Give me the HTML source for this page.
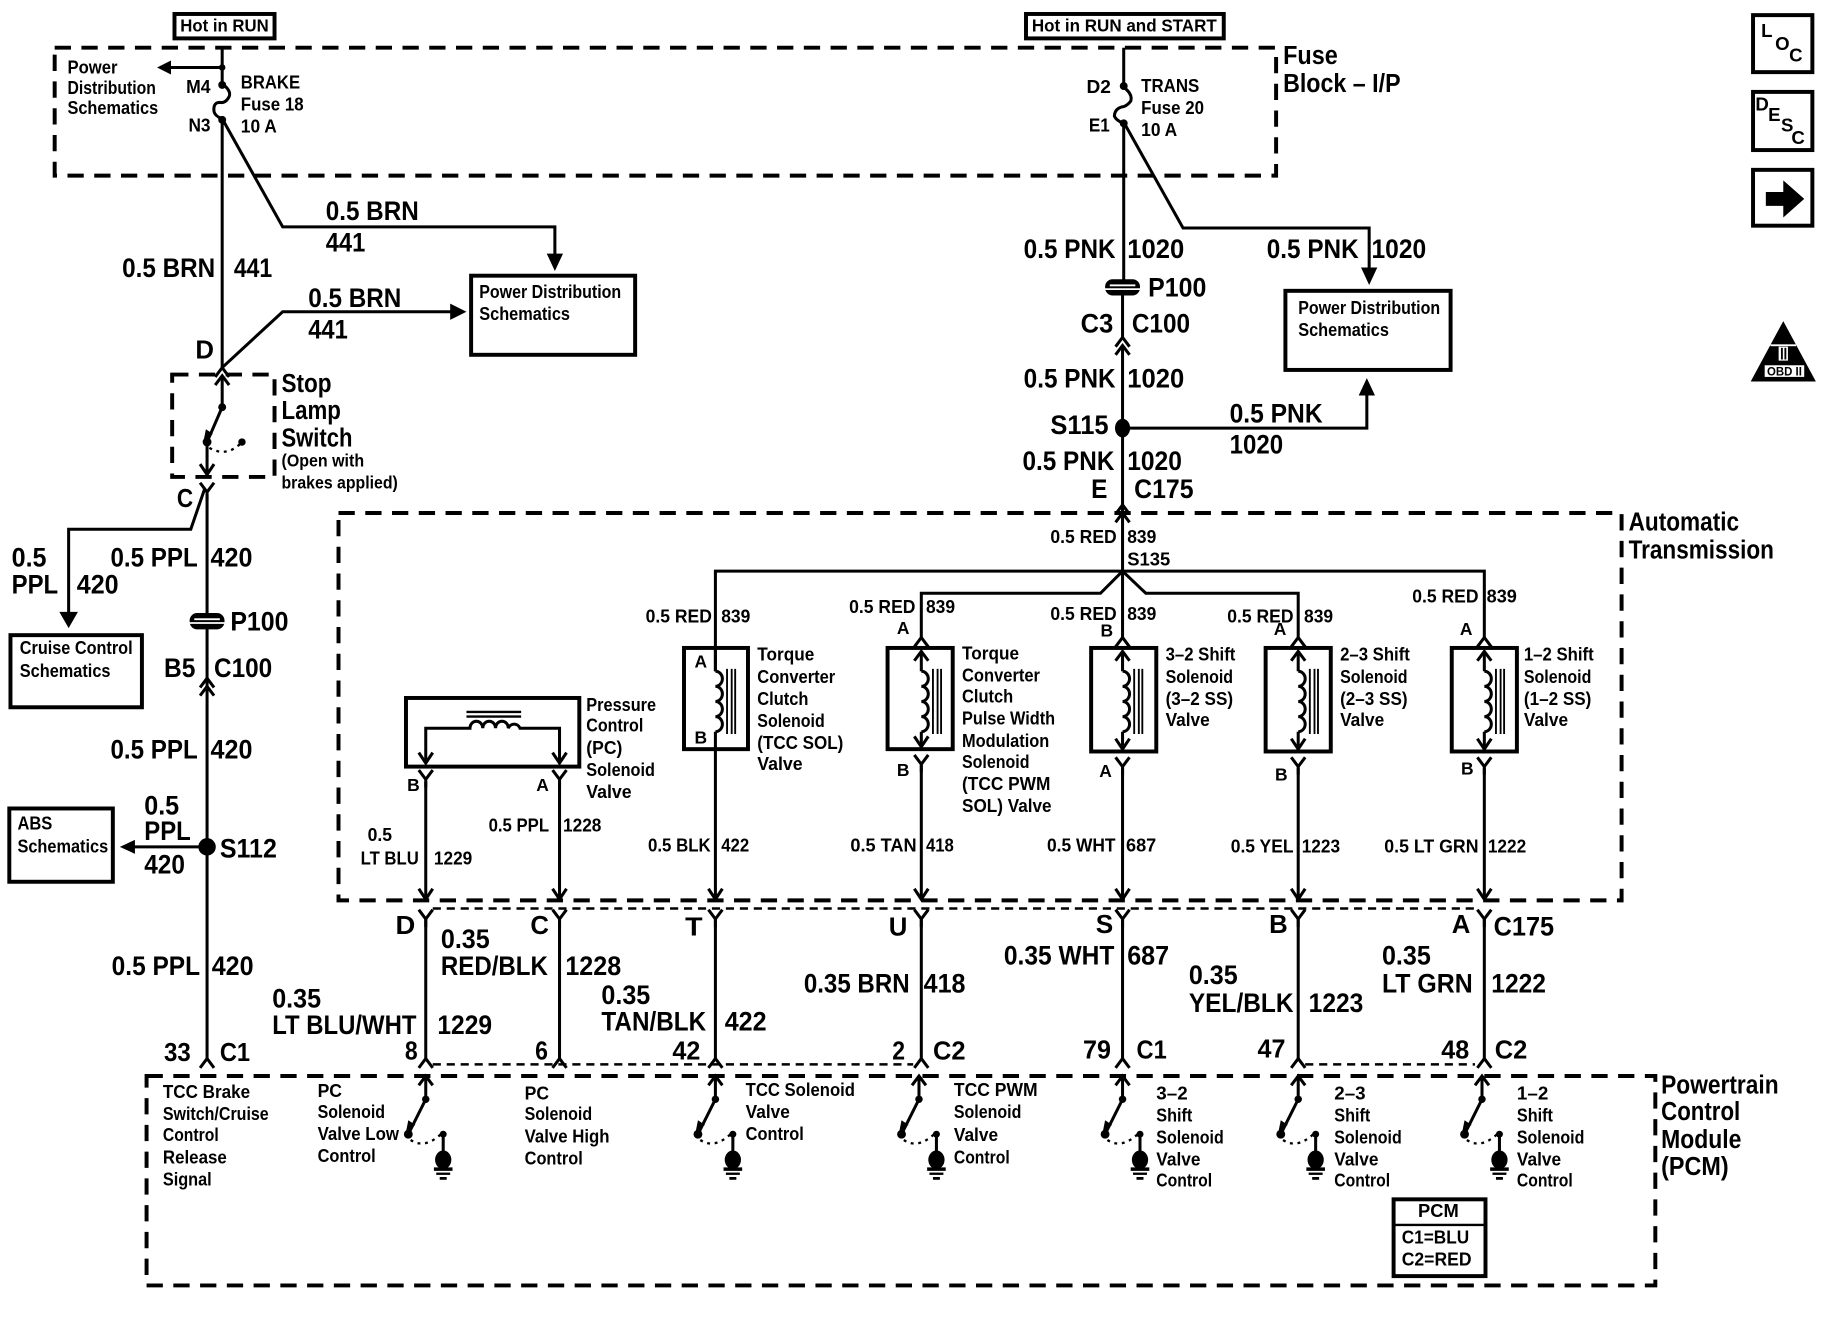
<!DOCTYPE html>
<html><head><meta charset="utf-8"><style>
html,body{margin:0;padding:0;background:#fff}
svg{display:block}
text{font-family:"Liberation Sans",sans-serif;font-weight:700;fill:#000}
.b{font-size:23px}.t{font-size:22px}.m{font-size:16px}.s{font-size:15px}.x{font-size:14px}
.w{fill:none;stroke:#000;stroke-width:2.6}
.d{fill:none;stroke:#000;stroke-width:3.4;stroke-dasharray:14 9}
.k{fill:none;stroke:#000;stroke-width:3.4}
.f{fill:#000}
</style></head><body>
<svg width="1824" height="1328" viewBox="0 0 1568 1141.6" xmlns="http://www.w3.org/2000/svg">
<defs>
<g id="yc"><path d="M-6,-9L0,-1L6,-9M0,-1V6" class="w"/></g>
<g id="uc"><path d="M-6,8L0,0L6,8" class="w"/></g>
<g id="ad"><path d="M-6,-9L0,0L6,-9" class="w"/></g>
<g id="coil"><path d="M0,0a6,6.5 0 0 1 0,13a6,6.5 0 0 1 0,13a6,6.5 0 0 1 0,13a6,6.5 0 0 1 0,13" class="w"/><path d="M10,-2V54M14,-2V54M17,-2V54" fill="none" stroke="#000" stroke-width="1.6"/></g>
<g id="sw0">
<path d="M0,0V20L-15,50" class="w"/><path d="M-6,8L0,0L6,8" class="w"/><circle cx="0" cy="20" r="3.2" class="f"/><circle cx="-15" cy="50" r="3.8" class="f"/>
<path d="M-13,55Q-1,63 13,50" fill="none" stroke="#000" stroke-width="2" stroke-dasharray="2.5 4"/><path d="M-15,38L-17,48L-9,42Z" class="f"/>
<circle cx="15" cy="50" r="3" class="f"/>
</g>
<g id="sw">
<use href="#sw0"/>
<path d="M15,48V76" class="w"/><ellipse cx="15" cy="72" rx="7" ry="8" class="f"/>
<path d="M7,80H23" stroke="#000" stroke-width="3"/><path d="M9,84H21" stroke="#000" stroke-width="2"/><path d="M12,88H18" stroke="#000" stroke-width="2.4"/>
</g>
<g id="sp"><rect x="-15" y="-7" width="30" height="14" rx="6.5" class="f"/><rect x="-11" y="-2.5" width="22" height="1.6" fill="#fff"/><rect x="-16" y="0.8" width="32" height="1.5" fill="#fff"/></g>
</defs>

<!-- dashed enclosures -->
<rect x="47" y="41" width="1050" height="110" class="d"/>
<rect x="148" y="322" width="88" height="88" class="d"/>
<rect x="291" y="441" width="1103" height="333" class="d"/>
<rect x="126" y="925" width="1297" height="180" class="d"/>
<path d="M372,781H1268M372,915H785M1122,915H1268" fill="none" stroke="#000" stroke-width="2.2" stroke-dasharray="7 5"/>

<!-- solid boxes -->
<g class="k">
<rect x="150" y="12" width="86" height="21"/><rect x="882" y="12" width="170" height="21"/>
<rect x="405" y="237" width="141" height="68"/><rect x="1105" y="250" width="142" height="68"/>
<rect x="9" y="546" width="113" height="62"/><rect x="8" y="695" width="89" height="63"/>
<rect x="349" y="600" width="149" height="59"/>
<rect x="588" y="557" width="55" height="87"/><rect x="763" y="557" width="56" height="87"/>
<rect x="938" y="557" width="56" height="89"/><rect x="1088" y="557" width="56" height="89"/><rect x="1248" y="557" width="56" height="89"/>
<rect x="1198" y="1031" width="79" height="66"/><path d="M1198,1053H1277" stroke-width="2"/>
<rect x="1507" y="13" width="51" height="49"/><rect x="1507" y="79" width="51" height="50"/><rect x="1507" y="146" width="51" height="48"/>
</g>

<!-- left wires -->
<path class="w" d="M191,41V72M191,102V316L243,268H392M191,102L243,195H477V224M191,58H144M178,380V408M178,425V910M176,420L164,455H59V530M178,728H112"/>
<path class="w" d="M191,72Q199,78 197,83Q194,89 189,88Q183,88 184,96Q185,100 191,102" stroke-width="2"/>
<circle cx="191" cy="58" r="2.8" class="f"/><circle cx="191" cy="73" r="3.4" class="f"/><circle cx="191" cy="103" r="3.4" class="f"/>
<path class="f" d="M135,58L147,52V64ZM477,233L470,218H484ZM401,268L387,261V275ZM59,540L51,526H67ZM103,728L116,722V734Z"/>
<use href="#uc" x="191" y="316"/>
<!-- stop lamp switch -->
<path class="w" d="M191,323V350L178,380"/><path d="M185,331L191,323L197,331" class="w"/>
<circle cx="191" cy="350" r="3.4" class="f"/><circle cx="178" cy="380" r="3.8" class="f"/><circle cx="208" cy="380" r="3.2" class="f"/>
<path d="M180,385Q194,393 206,382" fill="none" stroke="#000" stroke-width="2" stroke-dasharray="2.5 4"/><path d="M177,369L175,379L183,373Z" class="f"/>
<use href="#ad" x="178" y="408"/><use href="#yc" x="178" y="424"/>
<use href="#sp" x="178" y="534"/><use href="#uc" x="178" y="583"/><use href="#uc" x="178" y="590"/>
<circle cx="178" cy="728" r="7.5" class="f"/>
<use href="#uc" x="178" y="910"/>

<!-- right wires -->
<path class="w" d="M966,41V75M966,105V244M965,254V290M965,297V440M966,105L1017,196H1177V236M965,368H1175V335"/>
<path class="w" d="M966,75Q974,81 972,87Q968,92 964,92Q958,94 958,100Q960,104 966,106" stroke-width="2"/>
<circle cx="966" cy="74" r="3.4" class="f"/><circle cx="966" cy="106" r="3.4" class="f"/>
<path class="f" d="M1177,245L1170,230H1184ZM1175,325L1168,340H1182Z"/>
<use href="#sp" x="965" y="247"/><use href="#uc" x="965" y="290"/><use href="#uc" x="965" y="297"/>
<ellipse cx="965" cy="368" rx="6.5" ry="8" class="f"/>
<use href="#uc" x="965" y="434"/>

<!-- automatic transmission -->
<path class="w" d="M965,441V548M615,577V491H1276V548M792,548V510H946L965,491L985,510H1116V548"/>
<use href="#uc" x="965" y="441"/>
<!-- column 615 -->
<path class="w" d="M615,557V577M615,629V773"/>
<use href="#coil" x="615" y="577"/>
<!-- column 792 / 965 / 1116 / 1276 -->
<use href="#uc" x="792" y="548"/><use href="#uc" x="792" y="560"/><use href="#coil" x="792" y="577"/><path class="w" d="M792,560V577M792,629V642M792,658V773"/><use href="#ad" x="792" y="642"/><use href="#yc" x="792" y="658"/>
<use href="#uc" x="965" y="548"/><use href="#uc" x="965" y="560"/><use href="#coil" x="965" y="577"/><path class="w" d="M965,560V577M965,629V644M965,660V773"/><use href="#ad" x="965" y="644"/><use href="#yc" x="965" y="660"/>
<use href="#uc" x="1116" y="548"/><use href="#uc" x="1116" y="560"/><use href="#coil" x="1116" y="577"/><path class="w" d="M1116,560V577M1116,629V644M1116,660V773"/><use href="#ad" x="1116" y="644"/><use href="#yc" x="1116" y="660"/>
<use href="#uc" x="1276" y="548"/><use href="#uc" x="1276" y="560"/><use href="#coil" x="1276" y="577"/><path class="w" d="M1276,560V577M1276,629V644M1276,660V773"/><use href="#ad" x="1276" y="644"/><use href="#yc" x="1276" y="660"/>
<!-- PC solenoid -->
<path d="M401,612H448M401,616H448" stroke="#000" stroke-width="2"/>
<path class="w" d="M366,655V626H404a5.5,6 0 0 1 11,0a5.5,6 0 0 1 11,0a5.5,6 0 0 1 11,0a5.5,6 0 0 1 10,0H481V655M366,672V773M481,672V773"/>
<use href="#ad" x="366" y="656"/><use href="#ad" x="481" y="656"/><use href="#yc" x="366" y="671"/><use href="#yc" x="481" y="671"/>
<!-- arrows at lower enclosure edge and wires below -->
<use href="#ad" x="366" y="773"/><use href="#ad" x="481" y="773"/><use href="#ad" x="615" y="773"/><use href="#ad" x="792" y="773"/><use href="#ad" x="965" y="773"/><use href="#ad" x="1116" y="773"/><use href="#ad" x="1276" y="773"/>
<use href="#yc" x="366" y="791"/><use href="#yc" x="481" y="791"/><use href="#yc" x="615" y="791"/><use href="#yc" x="792" y="791"/><use href="#yc" x="965" y="791"/><use href="#yc" x="1116" y="791"/><use href="#yc" x="1276" y="791"/>
<path class="w" d="M366,790V910M481,790V910M615,790V910M792,790V910M965,790V910M1116,790V910M1276,790V910"/>
<use href="#uc" x="366" y="910"/><use href="#uc" x="481" y="910"/><use href="#uc" x="615" y="910"/><use href="#uc" x="792" y="910"/><use href="#uc" x="965" y="910"/><use href="#uc" x="1116" y="910"/><use href="#uc" x="1276" y="910"/>

<!-- PCM switches -->
<use href="#sw" x="366" y="925"/><use href="#sw" x="615" y="925"/><use href="#sw" x="790" y="925"/><use href="#sw" x="965" y="925"/><use href="#sw" x="1116" y="925"/><use href="#sw" x="1274" y="925"/>

<!-- icons -->
<path class="f" d="M1518,165H1533V155L1551,171L1533,187V177H1518Z"/>
<path class="f" d="M1533,276L1561,328H1505Z"/>
<rect x="1522" y="296" width="22" height="1.6" fill="#fff"/><rect x="1529" y="298" width="8" height="12" fill="#fff"/><rect x="1531" y="299" width="1.6" height="10"/><rect x="1534" y="299" width="1.6" height="10"/>
<rect x="1517" y="314" width="34" height="10" fill="#fff"/>
<text x="1519" y="323" style="font-size:10px" textLength="30" lengthAdjust="spacingAndGlyphs">OBD II</text>
<text class="m" x="1514" y="32">L</text><text class="m" x="1526" y="43">O</text><text class="m" x="1538" y="53">C</text>
<text class="m" x="1509" y="95">D</text><text class="m" x="1520" y="104">E</text><text class="m" x="1531" y="113">S</text><text class="m" x="1540" y="124">C</text>

<!-- top labels -->
<text class="s" x="155" y="27" textLength="76" lengthAdjust="spacingAndGlyphs">Hot in RUN</text>
<text class="s" x="887" y="27" textLength="159" lengthAdjust="spacingAndGlyphs">Hot in RUN and START</text>
<text class="t" x="1103" y="55" textLength="47" lengthAdjust="spacingAndGlyphs">Fuse</text>
<text class="t" x="1103" y="79" textLength="101" lengthAdjust="spacingAndGlyphs">Block – I/P</text>
<text class="m" x="58" y="63" textLength="43" lengthAdjust="spacingAndGlyphs">Power</text>
<text class="m" x="58" y="81" textLength="76" lengthAdjust="spacingAndGlyphs">Distribution</text>
<text class="m" x="58" y="98" textLength="78" lengthAdjust="spacingAndGlyphs">Schematics</text>
<text class="m" x="160" y="80" textLength="21" lengthAdjust="spacingAndGlyphs">M4</text>
<text class="m" x="162" y="113" textLength="19" lengthAdjust="spacingAndGlyphs">N3</text>
<text class="m" x="207" y="76" textLength="51" lengthAdjust="spacingAndGlyphs">BRAKE</text>
<text class="m" x="207" y="95" textLength="54" lengthAdjust="spacingAndGlyphs">Fuse 18</text>
<text class="m" x="207" y="114" textLength="31" lengthAdjust="spacingAndGlyphs">10 A</text>
<text class="m" x="934" y="80" textLength="21" lengthAdjust="spacingAndGlyphs">D2</text>
<text class="m" x="936" y="113" textLength="18" lengthAdjust="spacingAndGlyphs">E1</text>
<text class="m" x="981" y="79" textLength="50" lengthAdjust="spacingAndGlyphs">TRANS</text>
<text class="m" x="981" y="98" textLength="54" lengthAdjust="spacingAndGlyphs">Fuse 20</text>
<text class="m" x="981" y="117" textLength="31" lengthAdjust="spacingAndGlyphs">10 A</text>
<text class="b" x="280" y="189" textLength="80" lengthAdjust="spacingAndGlyphs">0.5 BRN</text>
<text class="b" x="280" y="216" textLength="34" lengthAdjust="spacingAndGlyphs">441</text>
<text class="b" x="105" y="238" textLength="80" lengthAdjust="spacingAndGlyphs">0.5 BRN</text>
<text class="b" x="201" y="238" textLength="33" lengthAdjust="spacingAndGlyphs">441</text>
<text class="b" x="265" y="264" textLength="80" lengthAdjust="spacingAndGlyphs">0.5 BRN</text>
<text class="b" x="265" y="291" textLength="34" lengthAdjust="spacingAndGlyphs">441</text>
<text class="m" x="412" y="256" textLength="122" lengthAdjust="spacingAndGlyphs">Power Distribution</text>
<text class="m" x="412" y="275" textLength="78" lengthAdjust="spacingAndGlyphs">Schematics</text>
<text class="t" x="168" y="308" textLength="16" lengthAdjust="spacingAndGlyphs">D</text>
<text class="t" x="242" y="337" textLength="43" lengthAdjust="spacingAndGlyphs">Stop</text>
<text class="t" x="242" y="360" textLength="51" lengthAdjust="spacingAndGlyphs">Lamp</text>
<text class="t" x="242" y="384" textLength="61" lengthAdjust="spacingAndGlyphs">Switch</text>
<text class="s" x="242" y="401" textLength="71" lengthAdjust="spacingAndGlyphs">(Open with</text>
<text class="s" x="242" y="420" textLength="100" lengthAdjust="spacingAndGlyphs">brakes applied)</text>

<!-- left column labels -->
<text class="t" x="152" y="436" textLength="14" lengthAdjust="spacingAndGlyphs">C</text>
<text class="b" x="10" y="487" textLength="30" lengthAdjust="spacingAndGlyphs">0.5</text>
<text class="b" x="10" y="510" textLength="40" lengthAdjust="spacingAndGlyphs">PPL</text>
<text class="b" x="66" y="510" textLength="36" lengthAdjust="spacingAndGlyphs">420</text>
<text class="b" x="95" y="487" textLength="75" lengthAdjust="spacingAndGlyphs">0.5 PPL</text>
<text class="b" x="181" y="487" textLength="36" lengthAdjust="spacingAndGlyphs">420</text>
<text class="m" x="17" y="562" textLength="97" lengthAdjust="spacingAndGlyphs">Cruise Control</text>
<text class="m" x="17" y="582" textLength="78" lengthAdjust="spacingAndGlyphs">Schematics</text>
<text class="b" x="198" y="542" textLength="50" lengthAdjust="spacingAndGlyphs">P100</text>
<text class="b" x="141" y="582" textLength="27" lengthAdjust="spacingAndGlyphs">B5</text>
<text class="b" x="184" y="582" textLength="50" lengthAdjust="spacingAndGlyphs">C100</text>
<text class="b" x="95" y="652" textLength="75" lengthAdjust="spacingAndGlyphs">0.5 PPL</text>
<text class="b" x="181" y="652" textLength="36" lengthAdjust="spacingAndGlyphs">420</text>
<text class="m" x="15" y="713" textLength="30" lengthAdjust="spacingAndGlyphs">ABS</text>
<text class="m" x="15" y="733" textLength="78" lengthAdjust="spacingAndGlyphs">Schematics</text>
<text class="b" x="124" y="700" textLength="30" lengthAdjust="spacingAndGlyphs">0.5</text>
<text class="b" x="124" y="722" textLength="40" lengthAdjust="spacingAndGlyphs">PPL</text>
<text class="b" x="124" y="751" textLength="35" lengthAdjust="spacingAndGlyphs">420</text>
<text class="b" x="189" y="737" textLength="49" lengthAdjust="spacingAndGlyphs">S112</text>
<text class="b" x="96" y="838" textLength="76" lengthAdjust="spacingAndGlyphs">0.5 PPL</text>
<text class="b" x="182" y="838" textLength="36" lengthAdjust="spacingAndGlyphs">420</text>

<!-- right column labels -->
<text class="b" x="880" y="222" textLength="79" lengthAdjust="spacingAndGlyphs">0.5 PNK</text>
<text class="b" x="969" y="222" textLength="49" lengthAdjust="spacingAndGlyphs">1020</text>
<text class="b" x="1089" y="222" textLength="79" lengthAdjust="spacingAndGlyphs">0.5 PNK</text>
<text class="b" x="1179" y="222" textLength="47" lengthAdjust="spacingAndGlyphs">1020</text>
<text class="m" x="1116" y="270" textLength="122" lengthAdjust="spacingAndGlyphs">Power Distribution</text>
<text class="m" x="1116" y="289" textLength="78" lengthAdjust="spacingAndGlyphs">Schematics</text>
<text class="b" x="987" y="255" textLength="50" lengthAdjust="spacingAndGlyphs">P100</text>
<text class="b" x="929" y="286" textLength="28" lengthAdjust="spacingAndGlyphs">C3</text>
<text class="b" x="973" y="286" textLength="50" lengthAdjust="spacingAndGlyphs">C100</text>
<text class="b" x="880" y="333" textLength="79" lengthAdjust="spacingAndGlyphs">0.5 PNK</text>
<text class="b" x="969" y="333" textLength="49" lengthAdjust="spacingAndGlyphs">1020</text>
<text class="b" x="903" y="373" textLength="50" lengthAdjust="spacingAndGlyphs">S115</text>
<text class="b" x="1057" y="363" textLength="80" lengthAdjust="spacingAndGlyphs">0.5 PNK</text>
<text class="b" x="1057" y="390" textLength="46" lengthAdjust="spacingAndGlyphs">1020</text>
<text class="b" x="879" y="404" textLength="79" lengthAdjust="spacingAndGlyphs">0.5 PNK</text>
<text class="b" x="969" y="404" textLength="47" lengthAdjust="spacingAndGlyphs">1020</text>
<text class="b" x="938" y="428" textLength="14" lengthAdjust="spacingAndGlyphs">E</text>
<text class="b" x="975" y="428" textLength="51" lengthAdjust="spacingAndGlyphs">C175</text>

<!-- transmission labels -->
<text class="t" x="1400" y="456" textLength="95" lengthAdjust="spacingAndGlyphs">Automatic</text>
<text class="t" x="1400" y="480" textLength="125" lengthAdjust="spacingAndGlyphs">Transmission</text>
<text class="m" x="903" y="467" textLength="57" lengthAdjust="spacingAndGlyphs">0.5 RED</text>
<text class="m" x="969" y="467" textLength="25" lengthAdjust="spacingAndGlyphs">839</text>
<text class="m" x="969" y="486" textLength="37" lengthAdjust="spacingAndGlyphs">S135</text>
<text class="m" x="555" y="535" textLength="57" lengthAdjust="spacingAndGlyphs">0.5 RED</text>
<text class="m" x="620" y="535" textLength="25" lengthAdjust="spacingAndGlyphs">839</text>
<text class="m" x="730" y="527" textLength="57" lengthAdjust="spacingAndGlyphs">0.5 RED</text>
<text class="m" x="796" y="527" textLength="25" lengthAdjust="spacingAndGlyphs">839</text>
<text class="m" x="903" y="533" textLength="57" lengthAdjust="spacingAndGlyphs">0.5 RED</text>
<text class="m" x="969" y="533" textLength="25" lengthAdjust="spacingAndGlyphs">839</text>
<text class="m" x="1055" y="535" textLength="57" lengthAdjust="spacingAndGlyphs">0.5 RED</text>
<text class="m" x="1121" y="535" textLength="25" lengthAdjust="spacingAndGlyphs">839</text>
<text class="m" x="1214" y="518" textLength="57" lengthAdjust="spacingAndGlyphs">0.5 RED</text>
<text class="m" x="1278" y="518" textLength="26" lengthAdjust="spacingAndGlyphs">839</text>
<text class="s" x="597" y="574">A</text><text class="s" x="597" y="639">B</text>
<text class="s" x="771" y="545">A</text><text class="s" x="771" y="667">B</text>
<text class="s" x="946" y="547">B</text><text class="s" x="945" y="668">A</text>
<text class="s" x="1095" y="546">A</text><text class="s" x="1096" y="671">B</text>
<text class="s" x="1255" y="546">A</text><text class="s" x="1256" y="666">B</text>
<text class="s" x="350" y="680">B</text><text class="s" x="461" y="680">A</text>

<text class="m" x="504" y="611" textLength="60" lengthAdjust="spacingAndGlyphs">Pressure</text>
<text class="m" x="504" y="629" textLength="49" lengthAdjust="spacingAndGlyphs">Control</text>
<text class="m" x="504" y="648" textLength="31" lengthAdjust="spacingAndGlyphs">(PC)</text>
<text class="m" x="504" y="667" textLength="59" lengthAdjust="spacingAndGlyphs">Solenoid</text>
<text class="m" x="504" y="686" textLength="39" lengthAdjust="spacingAndGlyphs">Valve</text>

<text class="m" x="651" y="568" textLength="49" lengthAdjust="spacingAndGlyphs">Torque</text>
<text class="m" x="651" y="587" textLength="67" lengthAdjust="spacingAndGlyphs">Converter</text>
<text class="m" x="651" y="606" textLength="44" lengthAdjust="spacingAndGlyphs">Clutch</text>
<text class="m" x="651" y="625" textLength="58" lengthAdjust="spacingAndGlyphs">Solenoid</text>
<text class="m" x="651" y="644" textLength="74" lengthAdjust="spacingAndGlyphs">(TCC SOL)</text>
<text class="m" x="651" y="662" textLength="39" lengthAdjust="spacingAndGlyphs">Valve</text>

<text class="m" x="827" y="567" textLength="49" lengthAdjust="spacingAndGlyphs">Torque</text>
<text class="m" x="827" y="586" textLength="67" lengthAdjust="spacingAndGlyphs">Converter</text>
<text class="m" x="827" y="604" textLength="44" lengthAdjust="spacingAndGlyphs">Clutch</text>
<text class="m" x="827" y="623" textLength="80" lengthAdjust="spacingAndGlyphs">Pulse Width</text>
<text class="m" x="827" y="642" textLength="75" lengthAdjust="spacingAndGlyphs">Modulation</text>
<text class="m" x="827" y="660" textLength="58" lengthAdjust="spacingAndGlyphs">Solenoid</text>
<text class="m" x="827" y="679" textLength="76" lengthAdjust="spacingAndGlyphs">(TCC PWM</text>
<text class="m" x="827" y="698" textLength="77" lengthAdjust="spacingAndGlyphs">SOL) Valve</text>

<text class="m" x="1002" y="568" textLength="60" lengthAdjust="spacingAndGlyphs">3–2 Shift</text>
<text class="m" x="1002" y="587" textLength="58" lengthAdjust="spacingAndGlyphs">Solenoid</text>
<text class="m" x="1002" y="606" textLength="58" lengthAdjust="spacingAndGlyphs">(3–2 SS)</text>
<text class="m" x="1002" y="624" textLength="38" lengthAdjust="spacingAndGlyphs">Valve</text>
<text class="m" x="1152" y="568" textLength="60" lengthAdjust="spacingAndGlyphs">2–3 Shift</text>
<text class="m" x="1152" y="587" textLength="58" lengthAdjust="spacingAndGlyphs">Solenoid</text>
<text class="m" x="1152" y="606" textLength="58" lengthAdjust="spacingAndGlyphs">(2–3 SS)</text>
<text class="m" x="1152" y="624" textLength="38" lengthAdjust="spacingAndGlyphs">Valve</text>
<text class="m" x="1310" y="568" textLength="60" lengthAdjust="spacingAndGlyphs">1–2 Shift</text>
<text class="m" x="1310" y="587" textLength="58" lengthAdjust="spacingAndGlyphs">Solenoid</text>
<text class="m" x="1310" y="606" textLength="58" lengthAdjust="spacingAndGlyphs">(1–2 SS)</text>
<text class="m" x="1310" y="624" textLength="38" lengthAdjust="spacingAndGlyphs">Valve</text>

<text class="m" x="316" y="723" textLength="21" lengthAdjust="spacingAndGlyphs">0.5</text>
<text class="m" x="310" y="743" textLength="50" lengthAdjust="spacingAndGlyphs">LT BLU</text>
<text class="m" x="373" y="743" textLength="33" lengthAdjust="spacingAndGlyphs">1229</text>
<text class="m" x="420" y="715" textLength="52" lengthAdjust="spacingAndGlyphs">0.5 PPL</text>
<text class="m" x="484" y="715" textLength="33" lengthAdjust="spacingAndGlyphs">1228</text>
<text class="m" x="557" y="732" textLength="54" lengthAdjust="spacingAndGlyphs">0.5 BLK</text>
<text class="m" x="620" y="732" textLength="24" lengthAdjust="spacingAndGlyphs">422</text>
<text class="m" x="731" y="732" textLength="57" lengthAdjust="spacingAndGlyphs">0.5 TAN</text>
<text class="m" x="796" y="732" textLength="24" lengthAdjust="spacingAndGlyphs">418</text>
<text class="m" x="900" y="732" textLength="59" lengthAdjust="spacingAndGlyphs">0.5 WHT</text>
<text class="m" x="968" y="732" textLength="26" lengthAdjust="spacingAndGlyphs">687</text>
<text class="m" x="1058" y="733" textLength="54" lengthAdjust="spacingAndGlyphs">0.5 YEL</text>
<text class="m" x="1119" y="733" textLength="33" lengthAdjust="spacingAndGlyphs">1223</text>
<text class="m" x="1190" y="733" textLength="81" lengthAdjust="spacingAndGlyphs">0.5 LT GRN</text>
<text class="m" x="1279" y="733" textLength="33" lengthAdjust="spacingAndGlyphs">1222</text>

<!-- harness labels -->
<text class="t" x="340" y="803" textLength="17" lengthAdjust="spacingAndGlyphs">D</text>
<text class="t" x="456" y="803" textLength="16" lengthAdjust="spacingAndGlyphs">C</text>
<text class="t" x="589" y="804" textLength="15" lengthAdjust="spacingAndGlyphs">T</text>
<text class="t" x="764" y="804" textLength="16" lengthAdjust="spacingAndGlyphs">U</text>
<text class="t" x="942" y="802" textLength="15" lengthAdjust="spacingAndGlyphs">S</text>
<text class="t" x="1091" y="802" textLength="16" lengthAdjust="spacingAndGlyphs">B</text>
<text class="t" x="1248" y="802" textLength="16" lengthAdjust="spacingAndGlyphs">A</text>
<text class="b" x="1284" y="804" textLength="52" lengthAdjust="spacingAndGlyphs">C175</text>
<text class="b" x="379" y="815" textLength="42" lengthAdjust="spacingAndGlyphs">0.35</text>
<text class="b" x="379" y="838" textLength="92" lengthAdjust="spacingAndGlyphs">RED/BLK</text>
<text class="b" x="486" y="838" textLength="48" lengthAdjust="spacingAndGlyphs">1228</text>
<text class="b" x="234" y="866" textLength="42" lengthAdjust="spacingAndGlyphs">0.35</text>
<text class="b" x="234" y="889" textLength="124" lengthAdjust="spacingAndGlyphs">LT BLU/WHT</text>
<text class="b" x="376" y="889" textLength="47" lengthAdjust="spacingAndGlyphs">1229</text>
<text class="b" x="517" y="863" textLength="42" lengthAdjust="spacingAndGlyphs">0.35</text>
<text class="b" x="517" y="886" textLength="90" lengthAdjust="spacingAndGlyphs">TAN/BLK</text>
<text class="b" x="623" y="886" textLength="36" lengthAdjust="spacingAndGlyphs">422</text>
<text class="b" x="691" y="853" textLength="91" lengthAdjust="spacingAndGlyphs">0.35 BRN</text>
<text class="b" x="794" y="853" textLength="36" lengthAdjust="spacingAndGlyphs">418</text>
<text class="b" x="863" y="829" textLength="95" lengthAdjust="spacingAndGlyphs">0.35 WHT</text>
<text class="b" x="969" y="829" textLength="36" lengthAdjust="spacingAndGlyphs">687</text>
<text class="b" x="1022" y="846" textLength="42" lengthAdjust="spacingAndGlyphs">0.35</text>
<text class="b" x="1022" y="870" textLength="90" lengthAdjust="spacingAndGlyphs">YEL/BLK</text>
<text class="b" x="1125" y="870" textLength="47" lengthAdjust="spacingAndGlyphs">1223</text>
<text class="b" x="1188" y="829" textLength="42" lengthAdjust="spacingAndGlyphs">0.35</text>
<text class="b" x="1188" y="853" textLength="78" lengthAdjust="spacingAndGlyphs">LT GRN</text>
<text class="b" x="1282" y="853" textLength="47" lengthAdjust="spacingAndGlyphs">1222</text>
<text class="t" x="141" y="912" textLength="23" lengthAdjust="spacingAndGlyphs">33</text>
<text class="t" x="189" y="912" textLength="26" lengthAdjust="spacingAndGlyphs">C1</text>
<text class="t" x="348" y="911" textLength="11" lengthAdjust="spacingAndGlyphs">8</text>
<text class="t" x="460" y="911" textLength="11" lengthAdjust="spacingAndGlyphs">6</text>
<text class="t" x="578" y="911" textLength="24" lengthAdjust="spacingAndGlyphs">42</text>
<text class="t" x="767" y="911" textLength="11" lengthAdjust="spacingAndGlyphs">2</text>
<text class="t" x="802" y="911" textLength="28" lengthAdjust="spacingAndGlyphs">C2</text>
<text class="t" x="931" y="910" textLength="24" lengthAdjust="spacingAndGlyphs">79</text>
<text class="t" x="977" y="910" textLength="26" lengthAdjust="spacingAndGlyphs">C1</text>
<text class="t" x="1081" y="909" textLength="24" lengthAdjust="spacingAndGlyphs">47</text>
<text class="t" x="1239" y="910" textLength="24" lengthAdjust="spacingAndGlyphs">48</text>
<text class="t" x="1285" y="910" textLength="28" lengthAdjust="spacingAndGlyphs">C2</text>

<!-- PCM labels -->
<text class="t" x="1428" y="940" textLength="101" lengthAdjust="spacingAndGlyphs">Powertrain</text>
<text class="t" x="1428" y="963" textLength="68" lengthAdjust="spacingAndGlyphs">Control</text>
<text class="t" x="1428" y="987" textLength="69" lengthAdjust="spacingAndGlyphs">Module</text>
<text class="t" x="1428" y="1010" textLength="58" lengthAdjust="spacingAndGlyphs">(PCM)</text>
<text class="m" x="140" y="944" textLength="75" lengthAdjust="spacingAndGlyphs">TCC Brake</text>
<text class="m" x="140" y="963" textLength="91" lengthAdjust="spacingAndGlyphs">Switch/Cruise</text>
<text class="m" x="140" y="981" textLength="48" lengthAdjust="spacingAndGlyphs">Control</text>
<text class="m" x="140" y="1000" textLength="55" lengthAdjust="spacingAndGlyphs">Release</text>
<text class="m" x="140" y="1019" textLength="42" lengthAdjust="spacingAndGlyphs">Signal</text>
<text class="m" x="273" y="943" textLength="21" lengthAdjust="spacingAndGlyphs">PC</text>
<text class="m" x="273" y="961" textLength="58" lengthAdjust="spacingAndGlyphs">Solenoid</text>
<text class="m" x="273" y="980" textLength="70" lengthAdjust="spacingAndGlyphs">Valve Low</text>
<text class="m" x="273" y="999" textLength="50" lengthAdjust="spacingAndGlyphs">Control</text>
<text class="m" x="451" y="945" textLength="21" lengthAdjust="spacingAndGlyphs">PC</text>
<text class="m" x="451" y="963" textLength="58" lengthAdjust="spacingAndGlyphs">Solenoid</text>
<text class="m" x="451" y="982" textLength="73" lengthAdjust="spacingAndGlyphs">Valve High</text>
<text class="m" x="451" y="1001" textLength="50" lengthAdjust="spacingAndGlyphs">Control</text>
<text class="m" x="641" y="942" textLength="94" lengthAdjust="spacingAndGlyphs">TCC Solenoid</text>
<text class="m" x="641" y="961" textLength="38" lengthAdjust="spacingAndGlyphs">Valve</text>
<text class="m" x="641" y="980" textLength="50" lengthAdjust="spacingAndGlyphs">Control</text>
<text class="m" x="820" y="942" textLength="72" lengthAdjust="spacingAndGlyphs">TCC PWM</text>
<text class="m" x="820" y="961" textLength="58" lengthAdjust="spacingAndGlyphs">Solenoid</text>
<text class="m" x="820" y="981" textLength="38" lengthAdjust="spacingAndGlyphs">Valve</text>
<text class="m" x="820" y="1000" textLength="48" lengthAdjust="spacingAndGlyphs">Control</text>
<text class="m" x="994" y="945" textLength="27" lengthAdjust="spacingAndGlyphs">3–2</text>
<text class="m" x="994" y="964" textLength="31" lengthAdjust="spacingAndGlyphs">Shift</text>
<text class="m" x="994" y="983" textLength="58" lengthAdjust="spacingAndGlyphs">Solenoid</text>
<text class="m" x="994" y="1002" textLength="38" lengthAdjust="spacingAndGlyphs">Valve</text>
<text class="m" x="994" y="1020" textLength="48" lengthAdjust="spacingAndGlyphs">Control</text>
<text class="m" x="1147" y="945" textLength="27" lengthAdjust="spacingAndGlyphs">2–3</text>
<text class="m" x="1147" y="964" textLength="31" lengthAdjust="spacingAndGlyphs">Shift</text>
<text class="m" x="1147" y="983" textLength="58" lengthAdjust="spacingAndGlyphs">Solenoid</text>
<text class="m" x="1147" y="1002" textLength="38" lengthAdjust="spacingAndGlyphs">Valve</text>
<text class="m" x="1147" y="1020" textLength="48" lengthAdjust="spacingAndGlyphs">Control</text>
<text class="m" x="1304" y="945" textLength="27" lengthAdjust="spacingAndGlyphs">1–2</text>
<text class="m" x="1304" y="964" textLength="31" lengthAdjust="spacingAndGlyphs">Shift</text>
<text class="m" x="1304" y="983" textLength="58" lengthAdjust="spacingAndGlyphs">Solenoid</text>
<text class="m" x="1304" y="1002" textLength="38" lengthAdjust="spacingAndGlyphs">Valve</text>
<text class="m" x="1304" y="1020" textLength="48" lengthAdjust="spacingAndGlyphs">Control</text>
<text class="m" x="1219" y="1046" textLength="35" lengthAdjust="spacingAndGlyphs">PCM</text>
<text class="m" x="1205" y="1069" textLength="58" lengthAdjust="spacingAndGlyphs">C1=BLU</text>
<text class="m" x="1205" y="1088" textLength="60" lengthAdjust="spacingAndGlyphs">C2=RED</text>
</svg>
</body></html>
